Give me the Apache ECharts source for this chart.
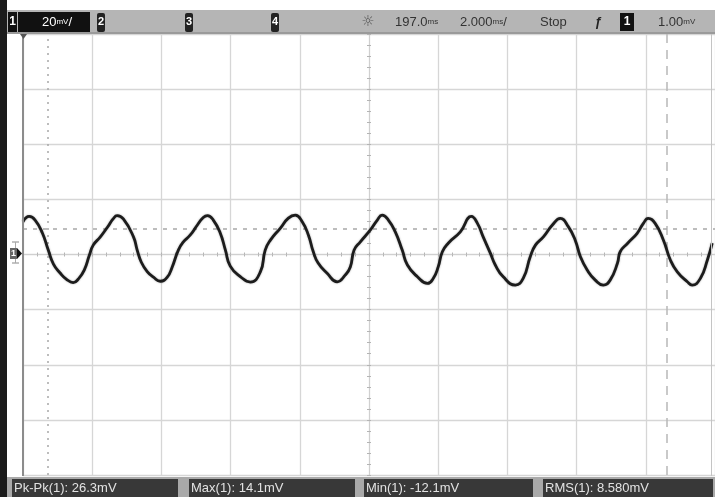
<!DOCTYPE html>
<html><head><meta charset="utf-8">
<script src="https://cdn.jsdelivr.net/npm/echarts@6/dist/echarts.min.js"></script>
<style>html,body{margin:0;padding:0;background:#fff;}#c{width:715px;height:497px;}</style>
</head><body><div id="c"></div>
<script>
// time in ms relative to screen centre (delay 197.0 ms), voltage in mV
const timeMs = [-10.00,-9.82,-9.65,-9.44,-9.27,-9.12,-8.92,-8.75,-8.55,-8.40,-8.23,-8.08,-7.97,-7.77,-7.56,-7.39,-7.28,-7.10,-6.81,-6.70,-6.58,-6.41,-6.23,-6.03,-5.83,-5.69,-5.51,-5.37,-5.17,-4.96,-4.79,-4.67,-4.50,-4.30,-4.15,-4.01,-3.72,-3.43,-3.14,-3.00,-2.85,-2.56,-2.33,-2.13,-1.93,-1.75,-1.61,-1.47,-1.21,-0.92,-0.69,-0.54,-0.43,-0.25,0.04,0.24,0.38,0.56,0.76,0.96,1.11,1.40,1.69,1.86,2.00,2.12,2.29,2.64,2.96,3.13,3.30,3.51,3.65,3.88,4.23,4.46,4.66,4.81,5.04,5.30,5.53,5.76,5.96,6.11,6.31,6.54,6.77,6.97,7.18,7.26,7.47,7.75,7.93,8.07,8.27,8.51,8.71,8.91,9.20,9.34,9.58,9.78,9.92];
const voltageMv = [11.9,13.8,12.5,7.8,1.6,-3.5,-6.8,-8.9,-10.2,-8.9,-5.7,-0.2,3.4,6.3,9.9,13.0,14.1,12.9,6.5,1.6,-2.8,-6.2,-8.2,-9.7,-8.2,-4.6,1.6,4.5,7.0,10.7,13.4,14.1,12.5,7.8,1.6,-4.2,-8.0,-10.0,-6.3,1.6,5.2,9.6,13.2,14.3,11.9,7.0,1.0,-3.1,-6.8,-9.9,-7.5,-4.5,1.6,4.6,8.9,12.5,14.3,12.5,8.2,1.6,-3.8,-8.1,-10.5,-8.6,-4.5,1.0,4.1,8.2,13.8,11.4,6.4,0.4,-3.8,-8.1,-11.1,-8.6,-0.8,3.4,6.4,10.7,13.1,10.1,5.2,-0.8,-5.7,-9.3,-11.1,-9.3,-3.2,1.0,4.0,7.7,11.3,13.1,11.3,5.2,-2.0,-6.3,-9.9,-11.1,-8.6,-2.0,4.1];
const cursorTimesMs = [-9.28, 8.61];
const triggerLevelMv = 9.2;
const topBarTexts = ['20', '197.0', '2.000', 'Stop', '1.00'];
const measurements = ['Pk-Pk(1): 26.3mV', 'Max(1): 14.1mV', 'Min(1): -12.1mV', 'RMS(1): 8.580mV'];

const FONT = '"Liberation Sans Narrow","Liberation Sans",Arial,sans-serif';
const chart = echarts.init(document.getElementById('c'), null, {renderer: 'canvas'});

const series = [{
  type: 'line',
  data: timeMs.map((t, i) => [t, voltageMv[i]]),
  showSymbol: false,
  smooth: 0.5,
  silent: true,
  lineStyle: {color: '#1c1c1c', width: 2.8, shadowColor: 'rgba(0,0,0,0.35)', shadowBlur: 2},
  z: 5,
  markLine: {
    silent: true,
    symbol: ['none', 'none'],
    label: {show: false},
    data: [
      {xAxis: cursorTimesMs[0], lineStyle: {type: [2, 5], color: '#a8a8a8', width: 1.5}},
      {xAxis: cursorTimesMs[1], lineStyle: {type: [9, 7], color: '#b8b8b8', width: 1.5}},
      {yAxis: triggerLevelMv, lineStyle: {type: [4, 6], color: '#a8a8a8', width: 1.5}}
    ]
  }
}];

function centreAxis(extra) {
  return Object.assign({
    type: 'value',
    axisLabel: {show: false},
    axisLine: {show: true, onZero: true, lineStyle: {color: '#d0d0d0', width: 1}},
    axisTick: {show: true, length: 2, lineStyle: {color: '#b4b4b4'}},
    minorTick: {show: true, splitNumber: 5, length: 2, lineStyle: {color: '#b4b4b4'}},
    splitLine: {show: false}
  }, extra);
}

const graphic = [
  {type: 'rect', shape: {x: 0, y: 10, width: 715, height: 23}, style: {fill: '#b5b5b5'}, z: 10},
  {type: 'rect', shape: {x: 0, y: 32, width: 715, height: 2}, style: {fill: '#9a9a9a'}, z: 10},
  {type: 'rect', shape: {x: 8, y: 12, width: 9, height: 20}, style: {fill: '#111'}, z: 11},
  {type: 'text', x: 12.5, y: 22, style: {text: '1', fill: '#fff', font: 'bold 12px ' + FONT, align: 'center', verticalAlign: 'middle'}, z: 12},
  {type: 'rect', shape: {x: 18, y: 12, width: 72, height: 20}, style: {fill: '#111'}, z: 11},
  {type: 'text', x: 57, y: 22, style: {text: '{a|' + topBarTexts[0] + '}{u|mV}{a|/}', align: 'center', verticalAlign: 'middle', rich: {a: {fill: '#fff', font: '13px ' + FONT}, u: {fill: '#fff', font: '8px ' + FONT}}}, z: 12},
  {type: 'rect', shape: {x: 97, y: 13, width: 8, height: 19, r: 2}, style: {fill: '#222'}, z: 11},
  {type: 'text', x: 101, y: 22, style: {text: '2', fill: '#fff', font: 'bold 11px ' + FONT, align: 'center', verticalAlign: 'middle'}, z: 12},
  {type: 'rect', shape: {x: 185, y: 13, width: 8, height: 19, r: 2}, style: {fill: '#222'}, z: 11},
  {type: 'text', x: 189, y: 22, style: {text: '3', fill: '#fff', font: 'bold 11px ' + FONT, align: 'center', verticalAlign: 'middle'}, z: 12},
  {type: 'rect', shape: {x: 271, y: 13, width: 8, height: 19, r: 2}, style: {fill: '#222'}, z: 11},
  {type: 'text', x: 275, y: 22, style: {text: '4', fill: '#fff', font: 'bold 11px ' + FONT, align: 'center', verticalAlign: 'middle'}, z: 12},
  {type: 'text', x: 368, y: 22, style: {text: '☼', fill: '#555', font: '15px "DejaVu Sans"', align: 'center', verticalAlign: 'middle'}, z: 12},
  {type: 'text', x: 395, y: 22, style: {text: '{a|' + topBarTexts[1] + '}{u|ms}', verticalAlign: 'middle', rich: {a: {fill: '#333', font: '13px ' + FONT}, u: {fill: '#333', font: '8px ' + FONT}}}, z: 12},
  {type: 'text', x: 460, y: 22, style: {text: '{a|' + topBarTexts[2] + '}{u|ms}{a|/}', verticalAlign: 'middle', rich: {a: {fill: '#333', font: '13px ' + FONT}, u: {fill: '#333', font: '8px ' + FONT}}}, z: 12},
  {type: 'text', x: 540, y: 22, style: {text: topBarTexts[3], fill: '#333', font: '13px ' + FONT, verticalAlign: 'middle'}, z: 12},
  {type: 'text', x: 598, y: 22, style: {text: 'ƒ', fill: '#222', font: 'italic bold 13px ' + FONT, align: 'center', verticalAlign: 'middle'}, z: 12},
  {type: 'rect', shape: {x: 620, y: 13, width: 14, height: 18}, style: {fill: '#111'}, z: 11},
  {type: 'text', x: 627, y: 22, style: {text: '1', fill: '#fff', font: 'bold 12px ' + FONT, align: 'center', verticalAlign: 'middle'}, z: 12},
  {type: 'text', x: 658, y: 22, style: {text: '{a|' + topBarTexts[4] + '}{u|mV}', verticalAlign: 'middle', rich: {a: {fill: '#333', font: '13px ' + FONT}, u: {fill: '#333', font: '8px ' + FONT}}}, z: 12},
  {type: 'rect', shape: {x: 0, y: 0, width: 7, height: 497}, style: {fill: '#1b1b1b'}, z: 13},
  {type: 'line', shape: {x1: 23, y1: 34, x2: 23, y2: 476}, style: {stroke: '#8c8c8c', lineWidth: 2}, z: 9},
  {type: 'line', shape: {x1: 711.5, y1: 34, x2: 711.5, y2: 476}, style: {stroke: '#c4c4c4', lineWidth: 1}, z: 9},
  {type: 'polygon', shape: {points: [[20, 34], [27, 34], [23.5, 39]]}, style: {fill: '#555'}, z: 11},
  {type: 'line', shape: {x1: 12, y1: 242, x2: 19, y2: 242}, style: {stroke: '#888', lineWidth: 1}, z: 11},
  {type: 'line', shape: {x1: 12, y1: 263, x2: 19, y2: 263}, style: {stroke: '#888', lineWidth: 1}, z: 11},
  {type: 'line', shape: {x1: 15.5, y1: 242, x2: 15.5, y2: 263}, style: {stroke: '#aaa', lineWidth: 1}, z: 11},
  {type: 'rect', shape: {x: 10, y: 248, width: 7, height: 11}, style: {fill: '#666'}, z: 11},
  {type: 'text', x: 13.5, y: 253.5, style: {text: '1', fill: '#fff', font: 'bold 9px ' + FONT, align: 'center', verticalAlign: 'middle'}, z: 12},
  {type: 'polygon', shape: {points: [[17, 248], [22, 253.5], [17, 259]]}, style: {fill: '#111'}, z: 11},
  {type: 'rect', shape: {x: 0, y: 477, width: 715, height: 20}, style: {fill: '#a9a9a9'}, z: 10},
  {type: 'rect', shape: {x: 12, y: 479, width: 166, height: 18}, style: {fill: '#383838'}, z: 11},
  {type: 'rect', shape: {x: 189, y: 479, width: 166, height: 18}, style: {fill: '#383838'}, z: 11},
  {type: 'rect', shape: {x: 364, y: 479, width: 169, height: 18}, style: {fill: '#383838'}, z: 11},
  {type: 'rect', shape: {x: 543, y: 479, width: 170, height: 18}, style: {fill: '#383838'}, z: 11},
  {type: 'text', x: 14, y: 488, style: {text: measurements[0], fill: '#e2e2e2', font: '13px ' + FONT, verticalAlign: 'middle'}, z: 12},
  {type: 'text', x: 191, y: 488, style: {text: measurements[1], fill: '#e2e2e2', font: '13px ' + FONT, verticalAlign: 'middle'}, z: 12},
  {type: 'text', x: 366, y: 488, style: {text: measurements[2], fill: '#e2e2e2', font: '13px ' + FONT, verticalAlign: 'middle'}, z: 12},
  {type: 'text', x: 545, y: 488, style: {text: measurements[3], fill: '#e2e2e2', font: '13px ' + FONT, verticalAlign: 'middle'}, z: 12}
];

chart.setOption({
  animation: false,
  backgroundColor: '#ffffff',
  grid: {left: 23, right: 0, top: 34, bottom: 22, containLabel: false},
  xAxis: [
    centreAxis({min: -10, max: 10, interval: 2, position: 'bottom',
      splitLine: {show: true, lineStyle: {color: '#d6d6d6', width: 1.3}}}),
    centreAxis({min: -10, max: 10, interval: 2, position: 'top'})
  ],
  yAxis: [
    centreAxis({min: -80, max: 80, interval: 20, position: 'left',
      splitLine: {show: true, lineStyle: {color: '#d6d6d6', width: 1.3}}}),
    centreAxis({min: -80, max: 80, interval: 20, position: 'right'})
  ],
  series: series,
  graphic: graphic
});
</script>
</body></html>
